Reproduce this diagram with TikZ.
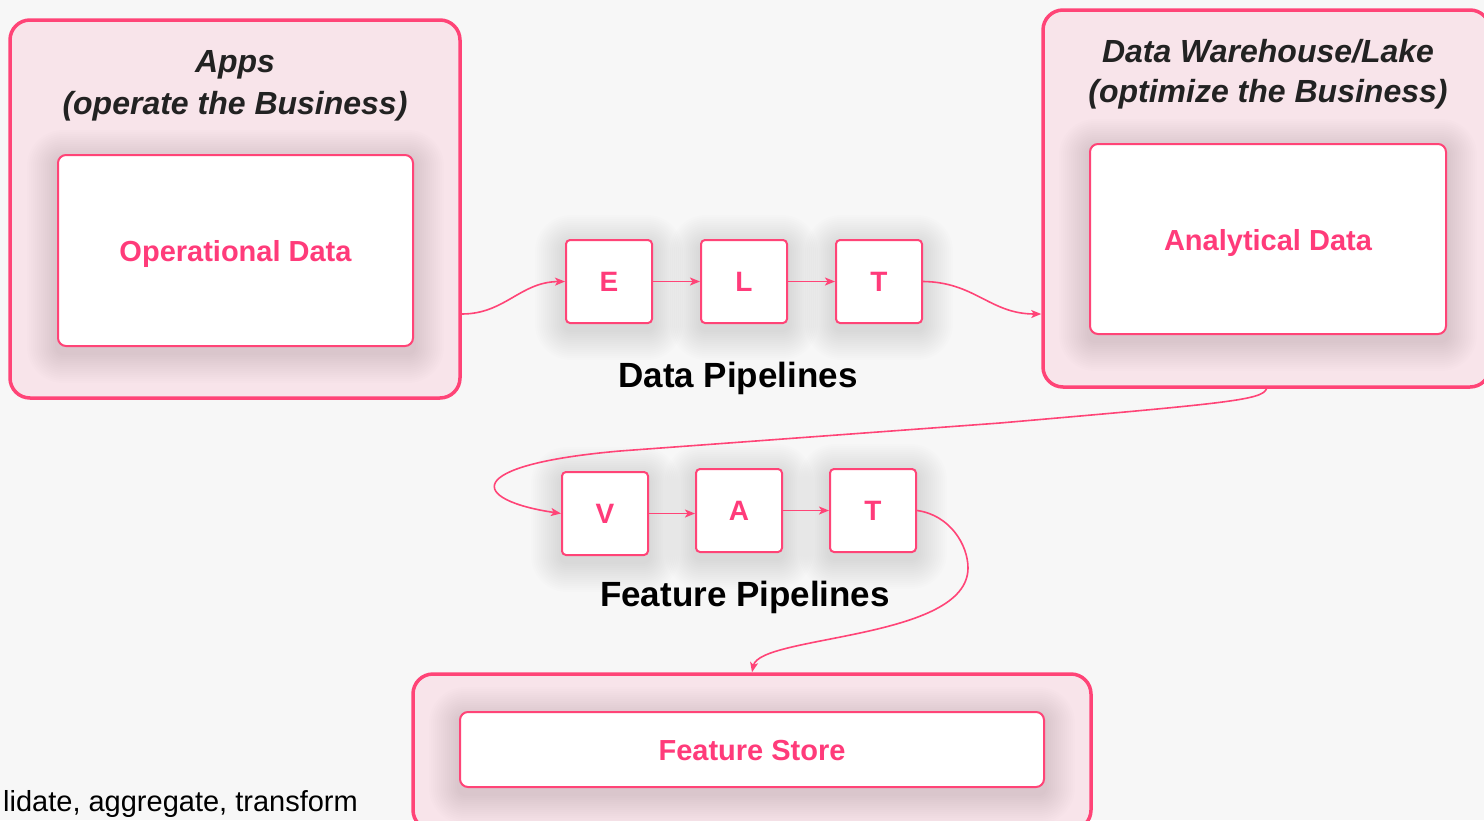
\documentclass[tikz,border=0pt]{standalone}
\usepackage{fontspec}
\setmainfont{Liberation Sans}
\usetikzlibrary{arrows.meta}
\pgfdeclarelayer{backdrop}
\pgfdeclarelayer{halo}
\pgfsetlayers{backdrop,halo,main}
\definecolor{pinkline}{HTML}{FF4477}
\definecolor{pinktext}{HTML}{FF3B7A}
\definecolor{pinkfill}{HTML}{F8E4EA}
\definecolor{bggray}{HTML}{F7F7F7}
\definecolor{titlegray}{HTML}{222222}
\tikzset{
  outerbox/.style={draw=pinkline, line width=3.5pt, fill=pinkfill, rounded corners=20pt, inner sep=0pt},
  innerbox/.style={draw=pinkline, line width=2pt, fill=white, rounded corners=8pt, inner sep=0pt},
  letterbox/.style={draw=pinkline, line width=2pt, fill=white, rounded corners=4pt, inner sep=0pt,
    minimum width=86pt, minimum height=83pt, text=pinktext, font=\fontsize{28}{28}\selectfont\bfseries},
  boxlabel/.style={text=pinktext, font=\fontsize{29}{35}\selectfont\bfseries, anchor=base},
  boxtitle/.style={text=titlegray, font=\fontsize{32}{40}\selectfont\bfseries\itshape, anchor=base},
  pipelabel/.style={text=black, font=\fontsize{35}{40}\selectfont\bfseries, anchor=base},
  flow/.style={->, draw=pinkline, line width=1.6pt},
  halostep/.style={fill=black, opacity=0.0065},
}
\begin{document}
\begin{tikzpicture}[>={Stealth[length=10pt,width=8pt,inset=2.5pt]}, x=1pt, y=-1pt]

    \useasboundingbox (0,0) rectangle (1484,820);
    \clip (0,0) rectangle (1484,820);

    \begin{pgfonlayer}{backdrop}
    \fill[bggray] (0,0) rectangle (1484,820);
    \draw(235,209) node[outerbox, minimum width=450pt, minimum height=378pt] (apps) {};
    \draw(1266.5,198.5) node[outerbox, minimum width=447pt, minimum height=377pt] (dwh) {};
    \draw(752,752) node[outerbox, minimum width=678pt, minimum height=156pt] (fs) {};
    \end{pgfonlayer}

    \draw(235,72) node[boxtitle] (appsname) {Apps};
    \draw(235,114) node[boxtitle] (appsrole) {(operate the Business)};
    \draw(235.5,250.5) node[innerbox, minimum width=355pt, minimum height=191pt] (opdata) {};
    \draw(235.5,261) node[boxlabel] {Operational Data};

    \draw(1268,62) node[boxtitle] (dwhname) {Data Warehouse/Lake};
    \draw(1268,102) node[boxtitle] (dwhrole) {(optimize the Business)};
    \draw(1268,239) node[innerbox, minimum width=356pt, minimum height=190pt] (andata) {};
    \draw(1268,250) node[boxlabel] {Analytical Data};

    \draw(609,281.5) node[letterbox] (E) {E};
    \draw(744,281.5) node[letterbox] (L) {L};
    \draw(879,281.5) node[letterbox] (T) {T};
    \draw(738,387) node[pipelabel] (datapipe) {Data Pipelines};

    \draw(605,513.5) node[letterbox] (V) {V};
    \draw(739,510.5) node[letterbox] (A) {A};
    \draw(873,510.5) node[letterbox] (Tf) {T};
    \draw(745,606) node[pipelabel] (featpipe) {Feature Pipelines};

    \draw(752,749.5) node[innerbox, minimum width=584pt, minimum height=75pt] (fsinner) {};
    \draw(752,760) node[boxlabel] {Feature Store};

    \draw(3,811) node[anchor=base west, inner sep=0pt, font=\fontsize{29}{32}\selectfont] (steps) {lidate, aggregate, transform};

    \begin{pgfonlayer}{halo}
    \foreach \n in {opdata,andata,fsinner,E,L,T,V,A,Tf}
      \foreach \r in {2,4,...,30}
        \fill[halostep, rounded corners=\r pt+6pt] ([xshift=-\r pt, yshift=\r pt-6pt]\n.north west) rectangle ([xshift=\r pt, yshift=-\r pt-6pt]\n.south east);
    \end{pgfonlayer}

    \draw[flow] ([yshift=-105pt]apps.east) .. controls (505,314) and (520,282) .. (E.west);
    \draw[flow] (E) -- (L);
    \draw[flow] (L) -- (T);
    \draw[flow] (T.east) .. controls (975,282) and (990,314) .. ([yshift=-115.5pt]dwh.west);

    \draw[flow] (dwh.south) .. controls (1262,400) and (1230,403) .. (1000,423) -- (620,451)
        .. controls (460,465) and (470,500) .. (V.west);
    \draw[flow] (V) -- (V -| A.west);
    \draw[flow] (A) -- (Tf);
    \draw[flow] (Tf.east) .. controls (950,515) and (968,545) .. (968,568)
        .. controls (968,640) and (760,635) .. (fs.north);

    \end{tikzpicture}
\end{document}
